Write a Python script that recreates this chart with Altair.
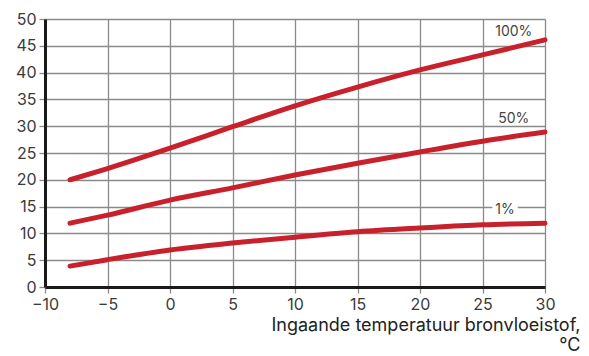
import altair as alt
import pandas as pd

temps = [-8, -5, 0, 5, 10, 15, 20, 25, 30]
s100 = [20.0, 22.1, 25.9, 29.9, 33.8, 37.3, 40.5, 43.3, 46.1]
s50 = [11.9, 13.4, 16.2, 18.5, 20.9, 23.1, 25.2, 27.2, 28.9]
s1 = [3.9, 5.1, 6.9, 8.2, 9.3, 10.3, 11.0, 11.6, 11.9]

label_text = ["100%", "50%", "1%"]
label_x = [27.5, 27.5, 26.8]
label_y = [47.6, 31.4, 14.3]

rows = []
for name, vals in [("100%", s100), ("50%", s50), ("1%", s1)]:
    for t, v in zip(temps, vals):
        rows.append({"serie": name, "t": t, "v": v})
df = pd.DataFrame(rows)
lab = pd.DataFrame({"txt": label_text, "t": label_x, "v": label_y})

FONT = "Inter"
xscale = alt.Scale(domain=[-10, 30], nice=False, zero=False)
yscale = alt.Scale(domain=[0, 50], nice=False)

xaxis = alt.Axis(
    values=list(range(-10, 31, 5)), labelFlush=False, labelOverlap=False,
    grid=True, gridColor="#8a8a8a", gridWidth=1.3,
    domainColor="#1a1a1a", domainWidth=3, tickColor="#8a8a8a", tickSize=6, tickWidth=1.3,
    labelFont=FONT, labelFontSize=16, labelColor="#3a3a3a", labelPadding=3,
    title=["Ingaande temperatuur bronvloeistof,", "°C"],
    titleFont=FONT, titleFontSize=18, titleFontWeight="normal", titleColor="#222222",
    titleAnchor="end", titleAlign="right", titleBaseline="alphabetic",
    titleX=535, titleY=43, titleLineHeight=20,
)
yaxis = alt.Axis(
    values=list(range(0, 51, 5)), labelOverlap=False, labelFlush=False,
    grid=True, gridColor="#8a8a8a", gridWidth=1.3,
    domainColor="#1a1a1a", domainWidth=3, tickColor="#8a8a8a", tickSize=6, tickWidth=1.3,
    labelFont=FONT, labelFontSize=16, labelColor="#3a3a3a", labelPadding=3, title=None,
)

X = alt.X("t:Q", scale=xscale, axis=xaxis)
Y = alt.Y("v:Q", scale=yscale, axis=yaxis)

lines = alt.Chart(df).mark_line(
    color="#c9212c", strokeWidth=5, strokeCap="round", interpolate="monotone"
).encode(x=X, y=Y, detail="serie:N")

bg = alt.Chart(lab).mark_point(
    shape="M-1.4,-0.6L1.4,-0.6L1.4,0.6L-1.4,0.6Z", filled=True, color="white", opacity=1, size=330
).encode(x=X, y=Y)

texts = alt.Chart(lab).mark_text(
    font=FONT, fontSize=14, color="#444444", align="center", baseline="middle"
).encode(x=X, y=Y, text="txt:N")

chart = alt.layer(lines, bg, texts).properties(
    width=500, height=268,
    autosize=alt.AutoSizeParams(type="none"),
    padding={"left": 37, "top": 11, "right": 36, "bottom": 69},
).configure_view(stroke="#555555", strokeWidth=2).configure(background="white")

chart.save("out.html", embed_options={"renderer": "svg", "actions": False})
